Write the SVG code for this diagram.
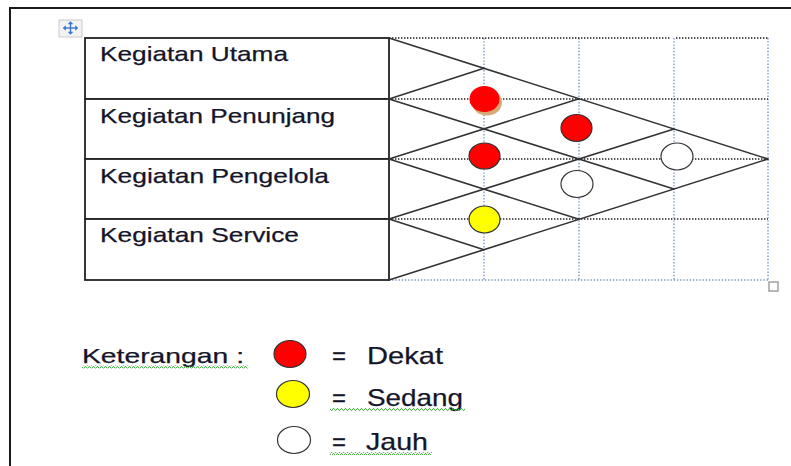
<svg xmlns="http://www.w3.org/2000/svg" width="791" height="466" viewBox="0 0 791 466">
  <style>
    .frame { fill: none; stroke: #1a1a1a; stroke-width: 2; }
    .cell { fill: #ffffff; stroke: #222222; stroke-width: 1.8; }
    .lbl { font-family: "Liberation Sans", Arial, sans-serif; font-size: 21px; fill: #15152a; stroke: #15152a; stroke-width: 0.25; }
    .leg { font-family: "Liberation Sans", Arial, sans-serif; font-size: 24px; fill: #15152a; stroke: #15152a; stroke-width: 0.25; }
    .dotk { fill: none; stroke: #1e1e1e; stroke-width: 1.6; stroke-dasharray: 1.4 1.6; }
    .dotb { fill: none; stroke: #7f9bc8; stroke-width: 1.5; stroke-dasharray: 1.4 1.8; }
    .edge { fill: none; stroke: #333333; stroke-width: 1.6; stroke-linecap: round; }
    .dekat { fill: #ff0000; stroke: #333333; stroke-width: 1.2; }
    .sedang { fill: #ffff00; stroke: #333333; stroke-width: 1.2; }
    .jauh { fill: #ffffff; stroke: #333333; stroke-width: 1.2; }
  </style>
  <defs>
    <pattern id="squiggle" width="4" height="3" patternUnits="userSpaceOnUse">
      <path d="M0,2.4 L1,0.6 L2,0.6 L3,2.4 L4,2.4" fill="none" stroke="#3caa3c" stroke-width="0.9"/>
    </pattern>
    <filter id="soft" x="-20%" y="-20%" width="140%" height="140%">
      <feGaussianBlur stdDeviation="0.5"/>
    </filter>
  </defs>

  <rect width="791" height="466" fill="#ffffff"/>

  <!-- page frame -->
  <path class="frame" d="M10,466 V8 H791"/>

  <!-- table move handle -->
  <g id="move-handle">
    <rect x="59" y="20" width="23" height="17" fill="#f3f3f3" stroke="#c9c9c9" stroke-width="1"/>
    <g fill="#3a78d0" stroke="#3a78d0" stroke-width="1.4">
      <line x1="64.5" y1="28" x2="76.5" y2="28"/>
      <line x1="70.5" y1="22.5" x2="70.5" y2="33.5"/>
      <path d="M63,28 l2.5,-2.3 v4.6 z" stroke-width="0.5"/>
      <path d="M78,28 l-2.5,-2.3 v4.6 z" stroke-width="0.5"/>
      <path d="M70.5,21.5 l-2.3,2.5 h4.6 z" stroke-width="0.5"/>
      <path d="M70.5,34.5 l-2.3,-2.5 h4.6 z" stroke-width="0.5"/>
    </g>
  </g>

  <!-- grid of the right-hand area -->
  <g id="grid">
    <line class="dotb" x1="484" y1="38" x2="484" y2="280"/>
    <line class="dotb" x1="579" y1="38" x2="579" y2="280"/>
    <line class="dotb" x1="674" y1="38" x2="674" y2="280"/>
    <line class="dotb" x1="768" y1="38" x2="768" y2="280"/>
    <line class="dotb" x1="389" y1="280" x2="768" y2="280"/>
    <line class="dotk" x1="389" y1="38" x2="671" y2="38"/>
    <line class="dotk" x1="676" y1="38" x2="768" y2="38"/>
    <line class="dotk" x1="389" y1="99" x2="768" y2="99"/>
    <line class="dotk" x1="389" y1="159" x2="768" y2="159"/>
    <line class="dotk" x1="389" y1="219" x2="768" y2="219"/>
  </g>

  <!-- activity rows -->
  <g id="row-utama">
    <rect class="cell" x="85" y="38" width="304" height="61"/>
    <text class="lbl" x="100" y="61" textLength="188" lengthAdjust="spacingAndGlyphs">Kegiatan Utama</text>
  </g>
  <g id="row-penunjang">
    <rect class="cell" x="85" y="99" width="304" height="60"/>
    <text class="lbl" x="100" y="123" textLength="235" lengthAdjust="spacingAndGlyphs">Kegiatan Penunjang</text>
  </g>
  <g id="row-pengelola">
    <rect class="cell" x="85" y="159" width="304" height="60"/>
    <text class="lbl" x="100" y="183" textLength="229" lengthAdjust="spacingAndGlyphs">Kegiatan Pengelola</text>
  </g>
  <g id="row-service">
    <rect class="cell" x="85" y="219" width="304" height="61"/>
    <text class="lbl" x="100" y="242" textLength="199" lengthAdjust="spacingAndGlyphs">Kegiatan Service</text>
  </g>

  <!-- relation lattice -->
  <g id="connectors">
    <line class="edge" x1="389" y1="38" x2="768" y2="159"/>
    <line class="edge" x1="389" y1="280" x2="768" y2="159"/>
    <line class="edge" x1="389" y1="99" x2="484" y2="68.3"/>
    <line class="edge" x1="389" y1="159" x2="579" y2="98.7"/>
    <line class="edge" x1="389" y1="219" x2="674" y2="129"/>
    <line class="edge" x1="389" y1="99" x2="674" y2="189"/>
    <line class="edge" x1="389" y1="159" x2="579" y2="219.3"/>
    <line class="edge" x1="389" y1="219" x2="484" y2="249.7"/>
  </g>

  <!-- relation markers -->
  <g id="mark-utama-penunjang">
    <ellipse cx="487" cy="102.5" rx="15" ry="13" fill="#d9a877" filter="url(#soft)"/>
    <ellipse cx="484.5" cy="99" rx="15" ry="13" fill="#ff0000" filter="url(#soft)"/>
  </g>
  <g id="mark-utama-pengelola">
    <ellipse class="dekat" cx="576.5" cy="128" rx="15.5" ry="13.5"/>
  </g>
  <g id="mark-penunjang-pengelola">
    <ellipse class="dekat" cx="484.5" cy="156" rx="15.5" ry="13"/>
  </g>
  <g id="mark-utama-service">
    <ellipse class="jauh" cx="677" cy="156.5" rx="16" ry="13.5"/>
  </g>
  <g id="mark-penunjang-service">
    <ellipse class="jauh" cx="577" cy="184" rx="16" ry="13.5"/>
  </g>
  <g id="mark-pengelola-service">
    <ellipse class="sedang" cx="484.5" cy="219.5" rx="15.5" ry="13.5"/>
  </g>

  <!-- table resize handle -->
  <rect x="769" y="282" width="9" height="9" fill="#ffffff" stroke="#a0a0a0" stroke-width="1.5"/>

  <!-- legend -->
  <g id="legend">
    <text class="lbl" x="82" y="363" textLength="162" lengthAdjust="spacingAndGlyphs">Keterangan :</text>
    <rect x="82" y="365.5" width="166" height="3" fill="url(#squiggle)"/>

    <ellipse class="dekat" cx="290" cy="354" rx="16" ry="13.5"/>
    <text class="leg" y="364"><tspan x="332">=</tspan><tspan x="367" textLength="76" lengthAdjust="spacingAndGlyphs">Dekat</tspan></text>

    <ellipse class="sedang" cx="293" cy="394" rx="16.5" ry="13.5"/>
    <text class="leg" y="406"><tspan x="332">=</tspan><tspan x="367" textLength="96" lengthAdjust="spacingAndGlyphs">Sedang</tspan></text>
    <rect x="330" y="408" width="135" height="3" fill="url(#squiggle)"/>

    <ellipse class="jauh" cx="294" cy="440" rx="16.5" ry="13.5"/>
    <text class="leg" y="450"><tspan x="332">=</tspan><tspan x="366" textLength="62" lengthAdjust="spacingAndGlyphs">Jauh</tspan></text>
    <rect x="330" y="452" width="102" height="3" fill="url(#squiggle)"/>
  </g>
</svg>
